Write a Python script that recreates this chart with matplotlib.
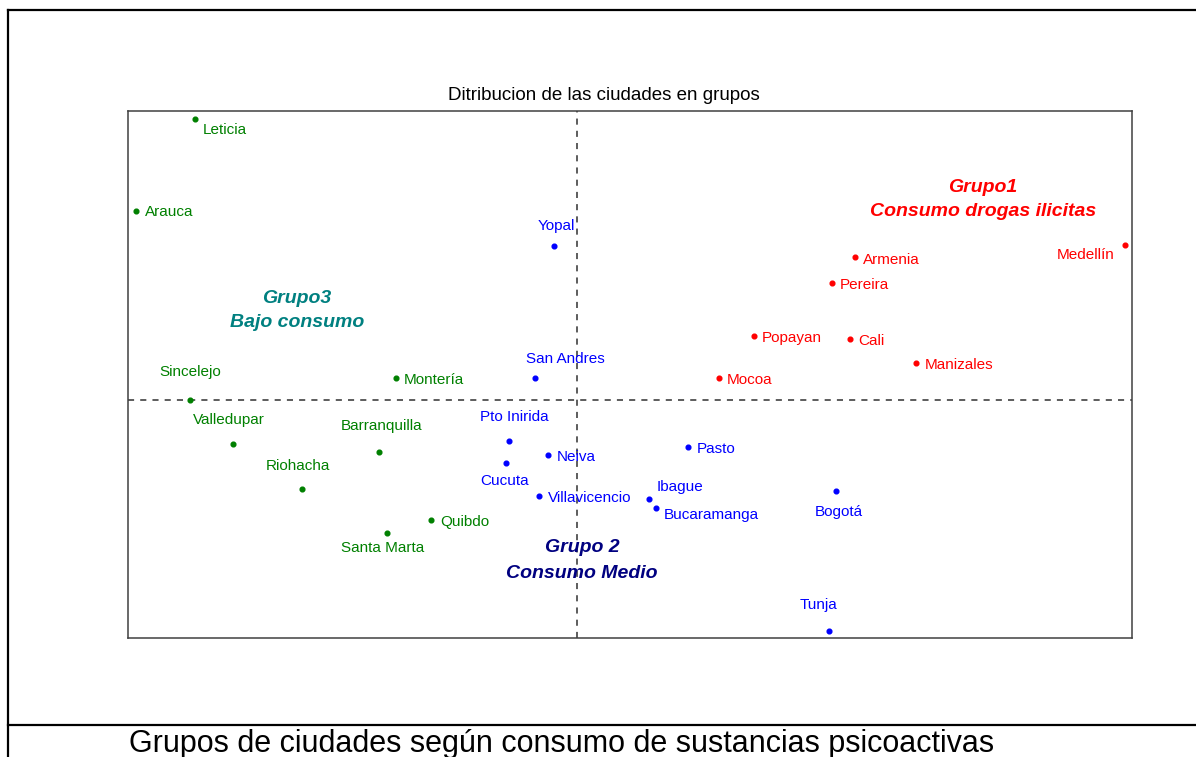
import matplotlib
matplotlib.use("Agg")
import matplotlib.pyplot as plt
from matplotlib.lines import Line2D

plt.rcParams['font.family'] = ['Liberation Sans', 'DejaVu Sans']

# === DATA =====================================================================
# coordinates of the cities on the factorial plane
g1_names = ['Medellín', 'Armenia', 'Pereira', 'Cali', 'Popayan', 'Manizales', 'Mocoa']
g1_x = [2.74, 1.39, 1.275, 1.365, 0.885, 1.695, 0.71]
g1_y = [0.775, 0.715, 0.585, 0.305, 0.32, 0.185, 0.11]

g2_names = ['Yopal', 'San Andres', 'Pto Inirida', 'Cucuta', 'Neiva', 'Villavicencio',
            'Pasto', 'Ibague', 'Bucaramanga', 'Bogotá', 'Tunja']
g2_x = [-0.115, -0.21, -0.34, -0.355, -0.145, -0.19, 0.555, 0.36, 0.395, 1.295, 1.26]
g2_y = [0.77, 0.11, -0.205, -0.315, -0.275, -0.48, -0.235, -0.495, -0.54, -0.455, -1.155]

g3_names = ['Leticia', 'Arauca', 'Sincelejo', 'Valledupar', 'Riohacha', 'Barranquilla',
            'Montería', 'Quibdo', 'Santa Marta']
g3_x = [-1.91, -2.205, -1.935, -1.72, -1.375, -0.99, -0.905, -0.73, -0.95]
g3_y = [1.405, 0.945, 0.0, -0.22, -0.445, -0.26, 0.11, -0.60, -0.665]

title = 'Ditribucion de las ciudades en grupos'
caption = 'Grupos de ciudades según consumo de sustancias psicoactivas'

# label placement: (ha, dx, dy) in pixels relative to the dot
g1_lab = [('right', -10, -10), ('left', 8, -3), ('left', 8, -2), ('left', 8, -2),
          ('left', 8, -2), ('left', 9, -2), ('left', 8, -2)]
g2_lab = [('center', 2, 20), ('center', 30, 19), ('center', 5, 24), ('center', -1, -18),
          ('left', 9, -2), ('left', 9, -2), ('left', 9, -2), ('left', 8, 12),
          ('left', 8, -7), ('center', 3, -21), ('center', -10, 26)]
g3_lab = [('left', 8, -11), ('left', 9, -1), ('center', 0, 28), ('center', -4, 24),
          ('center', -4, 23), ('center', 3, 26), ('left', 8, -2), ('left', 9, -2),
          ('center', -4, -15)]

# === PLOT RENDERING ===========================================================
W, H = 1196, 757
fig = plt.figure(figsize=(W / 100, H / 100), dpi=100)
fig.patch.set_facecolor('white')

# outer frame of the document
for (xs, ys) in [([8, 8], [10, H + 5]), ([8, W + 5], [10, 10]), ([8, W + 5], [725, 725])]:
    fig.add_artist(Line2D([x / W for x in xs], [1 - y / H for y in ys],
                          transform=fig.transFigure, color='black', lw=1.6))

ax = fig.add_axes([128 / W, 1 - 638 / H, (1132 - 128) / W, (638 - 111) / H])
ax.set_xlim(-2.245, 2.775)
ax.set_ylim(-1.19, 1.445)
ax.set_xticks([])
ax.set_yticks([])
for s in ax.spines.values():
    s.set_color('#404040')
    s.set_linewidth(1.1)

ax.axhline(0, color='#303030', lw=1.1, linestyle=(0, (4, 4)), zorder=1)
ax.axvline(0, color='#303030', lw=1.1, linestyle=(0, (4, 4)), zorder=1)


def draw_group(names, xs, ys, labs, col):
    ax.plot(xs, ys, 'o', color=col, ms=3.4, zorder=3)
    for n, x, y, (ha, dx, dy) in zip(names, xs, ys, labs):
        ax.annotate(n, (x, y), xytext=(dx * 0.72, dy * 0.72), textcoords='offset points',
                    ha=ha, va='center', color=col, fontsize=11)


draw_group(g1_names, g1_x, g1_y, g1_lab, '#ff0000')
draw_group(g2_names, g2_x, g2_y, g2_lab, '#0000ff')
draw_group(g3_names, g3_x, g3_y, g3_lab, '#008000')

# group names
gfont = dict(fontsize=14, fontweight='bold', fontstyle='italic', ha='center', va='center')
ax.text(2.03, 1.065, 'Grupo1', color='#ff0000', **gfont)
ax.text(2.03, 0.945, 'Consumo drogas ilicitas', color='#ff0000', **gfont)
ax.text(-1.40, 0.51, 'Grupo3', color='#008080', **gfont)
ax.text(-1.40, 0.39, 'Bajo consumo', color='#008080', **gfont)
ax.text(0.025, -0.735, 'Grupo 2', color='#000080', **gfont)
ax.text(0.025, -0.87, 'Consumo Medio', color='#000080', **gfont)

fig.text(604 / W, 1 - 96 / H, title, ha='center', va='center', fontsize=13.5)
fig.text(562 / W, 1 - 752 / H, caption, ha='center', va='baseline', fontsize=22)

plt.savefig('out.png', dpi=100)
